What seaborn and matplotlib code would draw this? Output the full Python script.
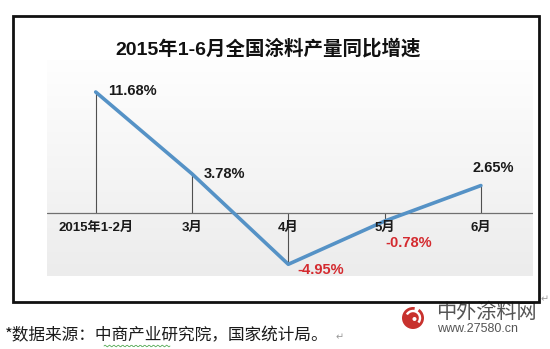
import numpy as np
import pandas as pd
import matplotlib
matplotlib.use("Agg")
import matplotlib.pyplot as plt
from matplotlib.patches import Rectangle, Circle, Wedge
from matplotlib.transforms import IdentityTransform
import seaborn as sns

# Year-on-year growth of national paint output, Jan-Jun 2015
categories = ["2015年1-2月", "3月", "4月", "5月", "6月"]
growth = [11.68, 3.78, -4.95, -0.78, 2.65]
value_labels = ["11.68%", "3.78%", "-4.95%", "-0.78%", "2.65%"]

title = "2015年1-6月全国涂料产量同比增速"
source_note = "*数据来源：中商产业研究院，国家统计局。"
brand_name = "中外涂料网"
brand_url = "www.27580.cn"

sns.set_theme(style="white")
plt.rcParams["font.family"] = ["Liberation Sans", "Noto Sans CJK SC", "DejaVu Sans"]

W, H = 550, 349
fig = plt.figure(figsize=(W / 100, H / 100), dpi=100)
fig.patch.set_facecolor("white")


def fx(px):
    return px / W


def fy(py):
    return 1 - py / H


# plot-area rectangle (pixels from top-left)
pl, pr, pt, pb = 47, 533, 60, 276
pos = [fx(pl), fy(pb), fx(pr) - fx(pl), fy(pt) - fy(pb)]

# soft grey gradient behind the plot area
bg = fig.add_axes(pos, zorder=0)
grad = np.linspace(0, 1, 256).reshape(-1, 1)
bg.imshow(grad, cmap=matplotlib.colors.LinearSegmentedColormap.from_list(
    "g", ["#fefefe", "#ececec"]), aspect="auto", extent=[0, 1, 0, 1])
bg.set_axis_off()

ax = fig.add_axes(pos, zorder=1)
ax.patch.set_alpha(0)

df = pd.DataFrame({"period": categories, "growth": growth})
sns.lineplot(data=df, x="period", y="growth", sort=False, ax=ax,
             color="#5592c6", linewidth=2.6, solid_capstyle="round", zorder=3)

x_pos = np.arange(len(categories))
ax.vlines(x_pos, 0, growth, color="#505050", linewidth=0.8, zorder=2)
ax.axhline(0, color="#707070", linewidth=0.9, zorder=2)

step = 96.3
x0 = 95.7
ax.set_xlim((pl - x0) / step, (pr - x0) / step)
ppu = 10.36
y_axis_px = 213
ax.set_ylim(-(pb - y_axis_px) / ppu, (y_axis_px - pt) / ppu)

for s in ax.spines.values():
    s.set_visible(False)
ax.set_yticks([])
ax.set_xticks(x_pos)
ax.set_xticklabels([])
ax.set_xlabel("")
ax.set_ylabel("")
ax.tick_params(axis="x", length=0)

for i, lab in enumerate(categories):
    ax.annotate(lab, xy=(i, 0), xytext=(0, -15), textcoords="offset pixels",
                ha="center", va="center", fontsize=9.5, fontweight="bold",
                color="#1a1a1a")

offsets = [(12, 1), (12, 0), (9, -6), (1, -22), (-8, 18)]
for i, (v, lab, off) in enumerate(zip(growth, value_labels, offsets)):
    col = "#d42a2f" if v < 0 else "#1a1a1a"
    ax.annotate(lab, xy=(i, v), xytext=off, textcoords="offset pixels",
                ha="left", va="center", fontsize=10.5, fontweight="bold",
                color=col, zorder=4)

# outer frame and title
fig.patches.append(Rectangle((fx(13), fy(302)), fx(539) - fx(13), fy(16) - fy(302),
                             transform=fig.transFigure, fill=False,
                             edgecolor="#111111", linewidth=2.0, zorder=5))
fig.text(fx(268), fy(49), title, ha="center", va="center", fontsize=14,
         fontweight="bold", color="#111111")

# source note below the frame
fig.text(fx(5), fy(336), source_note, ha="left", va="center", fontsize=12,
         fontweight="medium", color="#1a1a1a",
         family=["Noto Sans CJK SC", "DejaVu Sans"])
sq_x = np.linspace(fx(104), fx(170), 60)
sq_y = fy(346) + 0.0025 * np.sin(np.linspace(0, 30 * np.pi, 60))
fig.add_artist(plt.Line2D(sq_x, sq_y, color="#55aa55", linewidth=0.6,
                          transform=fig.transFigure))
fig.text(fx(340), fy(337), "↵", ha="center", va="center", fontsize=7,
         color="#999999", family="DejaVu Sans")
fig.text(fx(545), fy(299), "↵", ha="center", va="center", fontsize=7,
         color="#999999", family="DejaVu Sans")

# brand mark (drawn in display pixels so circles stay round)
cx, cy = 413, H - 318
ident = IdentityTransform()
red = "#c8322e"
fig.add_artist(Circle((cx, cy), 11, transform=ident, facecolor=red, edgecolor="none"))
fig.add_artist(Wedge((cx, cy), 8.2, -40, 150, width=2.4, transform=ident,
                     facecolor="white", edgecolor="none"))
fig.add_artist(Wedge((cx, cy), 11.5, 55, 80, width=5, transform=ident,
                     facecolor="white", edgecolor="none"))
fig.add_artist(Circle((cx + 1.5, cy - 1), 2.0, transform=ident,
                      facecolor="white", edgecolor="none"))

fig.text(fx(436), fy(313), brand_name, ha="left", va="center", fontsize=14.5,
         color="#555555", family=["Noto Sans CJK SC", "DejaVu Sans"])
fig.text(fx(437), fy(329), brand_url, ha="left", va="center", fontsize=9,
         color="#555555")

fig.savefig("out.png", dpi=100, facecolor="white")
